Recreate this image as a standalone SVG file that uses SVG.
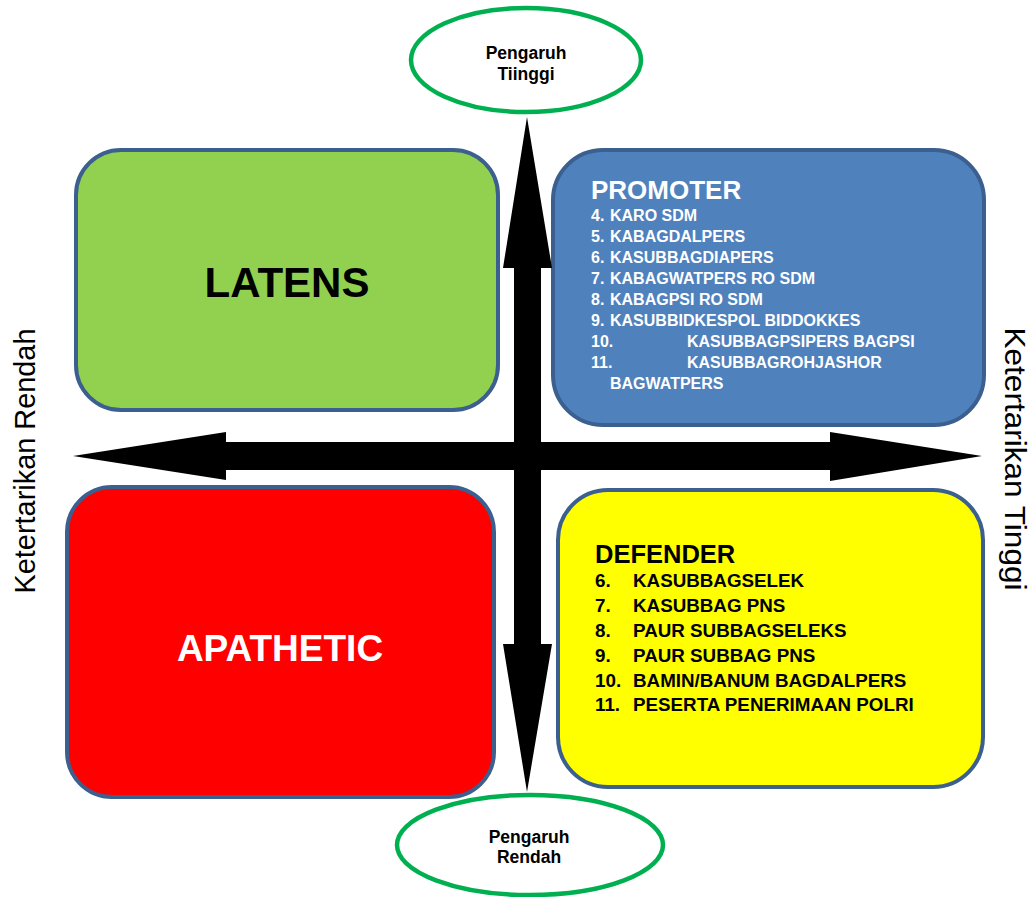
<svg xmlns="http://www.w3.org/2000/svg" width="1036" height="897" viewBox="0 0 1036 897">
<style>
.box{stroke:#3B5F8E;stroke-width:4}
.ell{fill:#fff;stroke:#00B050;stroke-width:4.5}
.t{font-family:"Liberation Sans",Arial,sans-serif;font-weight:bold}
.ti{font-family:"Liberation Sans",Arial,sans-serif;font-weight:bold;font-size:17.5px;fill:#000;text-anchor:middle}
.pl{font-family:"Liberation Sans",Arial,sans-serif;font-weight:bold;font-size:16px;fill:#fff}
.dl{font-family:"Liberation Sans",Arial,sans-serif;font-weight:bold;font-size:18.8px;fill:#000}
.side{font-family:"Liberation Sans",Arial,sans-serif;font-size:29px;fill:#000}
</style>
<rect width="1036" height="897" fill="#fff"/>
<g id="latens">
<rect class="box" x="76" y="150" width="422" height="260" rx="45" fill="#92D050"/>
<text class="t" x="287" y="297" font-size="42" text-anchor="middle" fill="#000">LATENS</text>
</g>
<g id="promoter">
<rect class="box" x="553" y="150" width="431" height="275" rx="50" fill="#4F81BD"/>
<text class="t" x="591" y="199" font-size="26" fill="#fff">PROMOTER</text>
<text class="pl" x="591" y="221">4.</text><text class="pl" x="610" y="221">KARO SDM</text>
<text class="pl" x="591" y="242">5.</text><text class="pl" x="610" y="242">KABAGDALPERS</text>
<text class="pl" x="591" y="263">6.</text><text class="pl" x="610" y="263">KASUBBAGDIAPERS</text>
<text class="pl" x="591" y="284">7.</text><text class="pl" x="610" y="284">KABAGWATPERS RO SDM</text>
<text class="pl" x="591" y="305">8.</text><text class="pl" x="610" y="305">KABAGPSI RO SDM</text>
<text class="pl" x="591" y="326">9.</text><text class="pl" x="610" y="326">KASUBBIDKESPOL BIDDOKKES</text>
<text class="pl" x="591" y="347">10.</text><text class="pl" x="687" y="347">KASUBBAGPSIPERS BAGPSI</text>
<text class="pl" x="591" y="368">11.</text><text class="pl" x="687" y="368">KASUBBAGROHJASHOR</text>
<text class="pl" x="610" y="389">BAGWATPERS</text>
</g>
<g id="apathetic">
<rect class="box" x="67" y="487" width="427" height="310" rx="45" fill="#FF0000"/>
<text class="t" x="280" y="661" font-size="37" text-anchor="middle" fill="#fff">APATHETIC</text>
</g>
<g id="defender">
<rect class="box" x="558" y="490" width="425" height="297" rx="50" fill="#FFFF00"/>
<text class="t" x="595" y="563" font-size="25.5" fill="#000">DEFENDER</text>
<text class="dl" x="595" y="587">6.</text><text class="dl" x="633" y="587">KASUBBAGSELEK</text>
<text class="dl" x="595" y="612">7.</text><text class="dl" x="633" y="612">KASUBBAG PNS</text>
<text class="dl" x="595" y="637">8.</text><text class="dl" x="633" y="637">PAUR SUBBAGSELEKS</text>
<text class="dl" x="595" y="662">9.</text><text class="dl" x="633" y="662">PAUR SUBBAG PNS</text>
<text class="dl" x="595" y="687">10.</text><text class="dl" x="633" y="687">BAMIN/BANUM BAGDALPERS</text>
<text class="dl" x="595" y="711">11.</text><text class="dl" x="633" y="711">PESERTA PENERIMAAN POLRI</text>
</g>
<g id="connectors">
<polygon fill="#000" points="527,117 552,268 541,268 541,644 552,644 527,792 503,644 514,644 514,268 503,268"/>
<polygon fill="#000" points="73,456 226,432 226,442 830,442 830,432 982,456 830,481 830,470 226,470 226,480"/>
</g>
<g id="pengaruh-tinggi">
<ellipse class="ell" cx="526" cy="60" rx="115" ry="52"/>
<text class="ti" x="526" y="59">Pengaruh</text>
<text class="ti" x="526" y="80">Tiinggi</text>
</g>
<g id="pengaruh-rendah">
<ellipse class="ell" cx="530" cy="845" rx="133" ry="50"/>
<text class="ti" x="529" y="843">Pengaruh</text>
<text class="ti" x="529" y="863">Rendah</text>
</g>
<g id="label-rendah">
<text class="side" transform="translate(35,461) rotate(-90)" text-anchor="middle" textLength="265" lengthAdjust="spacingAndGlyphs">Ketertarikan Rendah</text>
</g>
<g id="label-tinggi">
<text class="side" transform="translate(1005,459) rotate(90)" text-anchor="middle" textLength="263" lengthAdjust="spacingAndGlyphs">Ketertarikan Tinggi</text>
</g>
</svg>
